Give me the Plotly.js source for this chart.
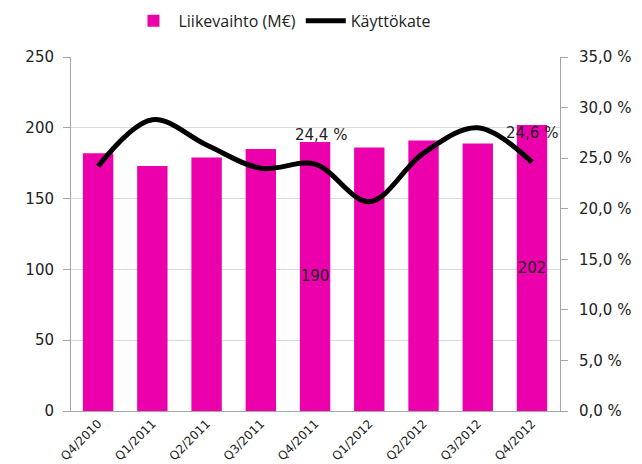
<!DOCTYPE html>
<html>
<head>
<meta charset="utf-8">
<script src="https://cdn.plot.ly/plotly-3.0.1.min.js"></script>
<style>html,body{margin:0;padding:0;background:#fff;}#chart{width:642px;height:464px;}</style>
</head>
<body>
<div id="chart"></div>
<script>
const quarters = ["Q4/2010","Q1/2011","Q2/2011","Q3/2011","Q4/2011","Q1/2012","Q2/2012","Q3/2012","Q4/2012"];
const revenue = [182, 173, 179, 185, 190, 186, 191, 189, 202];
const ebitdaPct = [24.2, 28.8, 26.3, 24.0, 24.4, 20.7, 25.5, 28.0, 24.6];
const revenueLabels = ["", "", "", "", "190", "", "", "", "202"];
const ebitdaLabels = ["", "", "", "", "24,4 %", "", "", "", "24,6 %"];
const leftTicks = [0, 50, 100, 150, 200, 250];
const rightTicks = [0, 5, 10, 15, 20, 25, 30, 35];
const rightTickText = rightTicks.map(v => v.toFixed(1).replace(".", ",") + " %");

const FONT = "DejaVu Sans, Verdana, sans-serif";

const traces = [
  {
    type: "bar", name: "Liikevaihto (M€)", x: quarters, y: revenue,
    marker: {color: "#ec00ac"},
    text: revenueLabels, textposition: "inside", insidetextanchor: "middle",
    textangle: 0, constraintext: "none",
    textfont: {family: FONT, size: 15, color: "#222"},
    hoverinfo: "skip"
  },
  {
    type: "scatter", mode: "lines", name: "Käyttökate", x: quarters, y: ebitdaPct,
    yaxis: "y2", line: {color: "#000", width: 5, shape: "spline", smoothing: 1},
    hoverinfo: "skip"
  }
];

const annotations = [];
ebitdaLabels.forEach((t, i) => {
  if (t) annotations.push({
    x: quarters[i], y: ebitdaPct[i], xref: "x", yref: "y2", text: t,
    showarrow: false, yshift: 29, xshift: i === quarters.length - 1 ? 0 : 6,
    font: {family: FONT, size: 15, color: "#222"}
  });
});

const layout = {
  width: 642, height: 464,
  margin: {l: 71, r: 82, t: 57, b: 53, autoexpand: false},
  paper_bgcolor: "#fff", plot_bgcolor: "#fff",
  separators: ", ",
  bargap: 0.44,
  font: {family: FONT, color: "#222"},
  showlegend: true,
  legend: {orientation: "h", xref: "container", yref: "container", x: 0.44, xanchor: "center",
           y: 0.955, yanchor: "middle", itemwidth: 40,
           font: {family: "Open Sans, sans-serif", size: 16, color: "#222"}, traceorder: "normal"},
  xaxis: {
    type: "category", tickangle: -45, tickfont: {family: FONT, size: 12, color: "#222"},
    showline: true, linecolor: "#a6a6a6", ticks: "", showgrid: false, fixedrange: true
  },
  yaxis: {
    range: [0, 250], tickmode: "array", tickvals: leftTicks, ticks: "outside", ticklen: 7, tickcolor: "#a6a6a6",
    showline: true, linecolor: "#a6a6a6", showgrid: true, gridcolor: "#d9d9d9",
    ticklabelstandoff: 6,
    tickfont: {family: FONT, size: 15, color: "#222"}, zeroline: false, fixedrange: true
  },
  yaxis2: {
    overlaying: "y", side: "right", range: [0, 35], tickmode: "array",
    tickvals: rightTicks, ticktext: rightTickText, ticks: "outside", ticklen: 7, tickcolor: "#a6a6a6",
    showline: true, linecolor: "#a6a6a6", showgrid: false, zeroline: false,
    ticklabelstandoff: 8,
    tickfont: {family: FONT, size: 15, color: "#222"}, fixedrange: true
  },
  annotations: annotations
};

Plotly.newPlot("chart", traces, layout, {displayModeBar: false, staticPlot: true});
</script>
</body>
</html>
